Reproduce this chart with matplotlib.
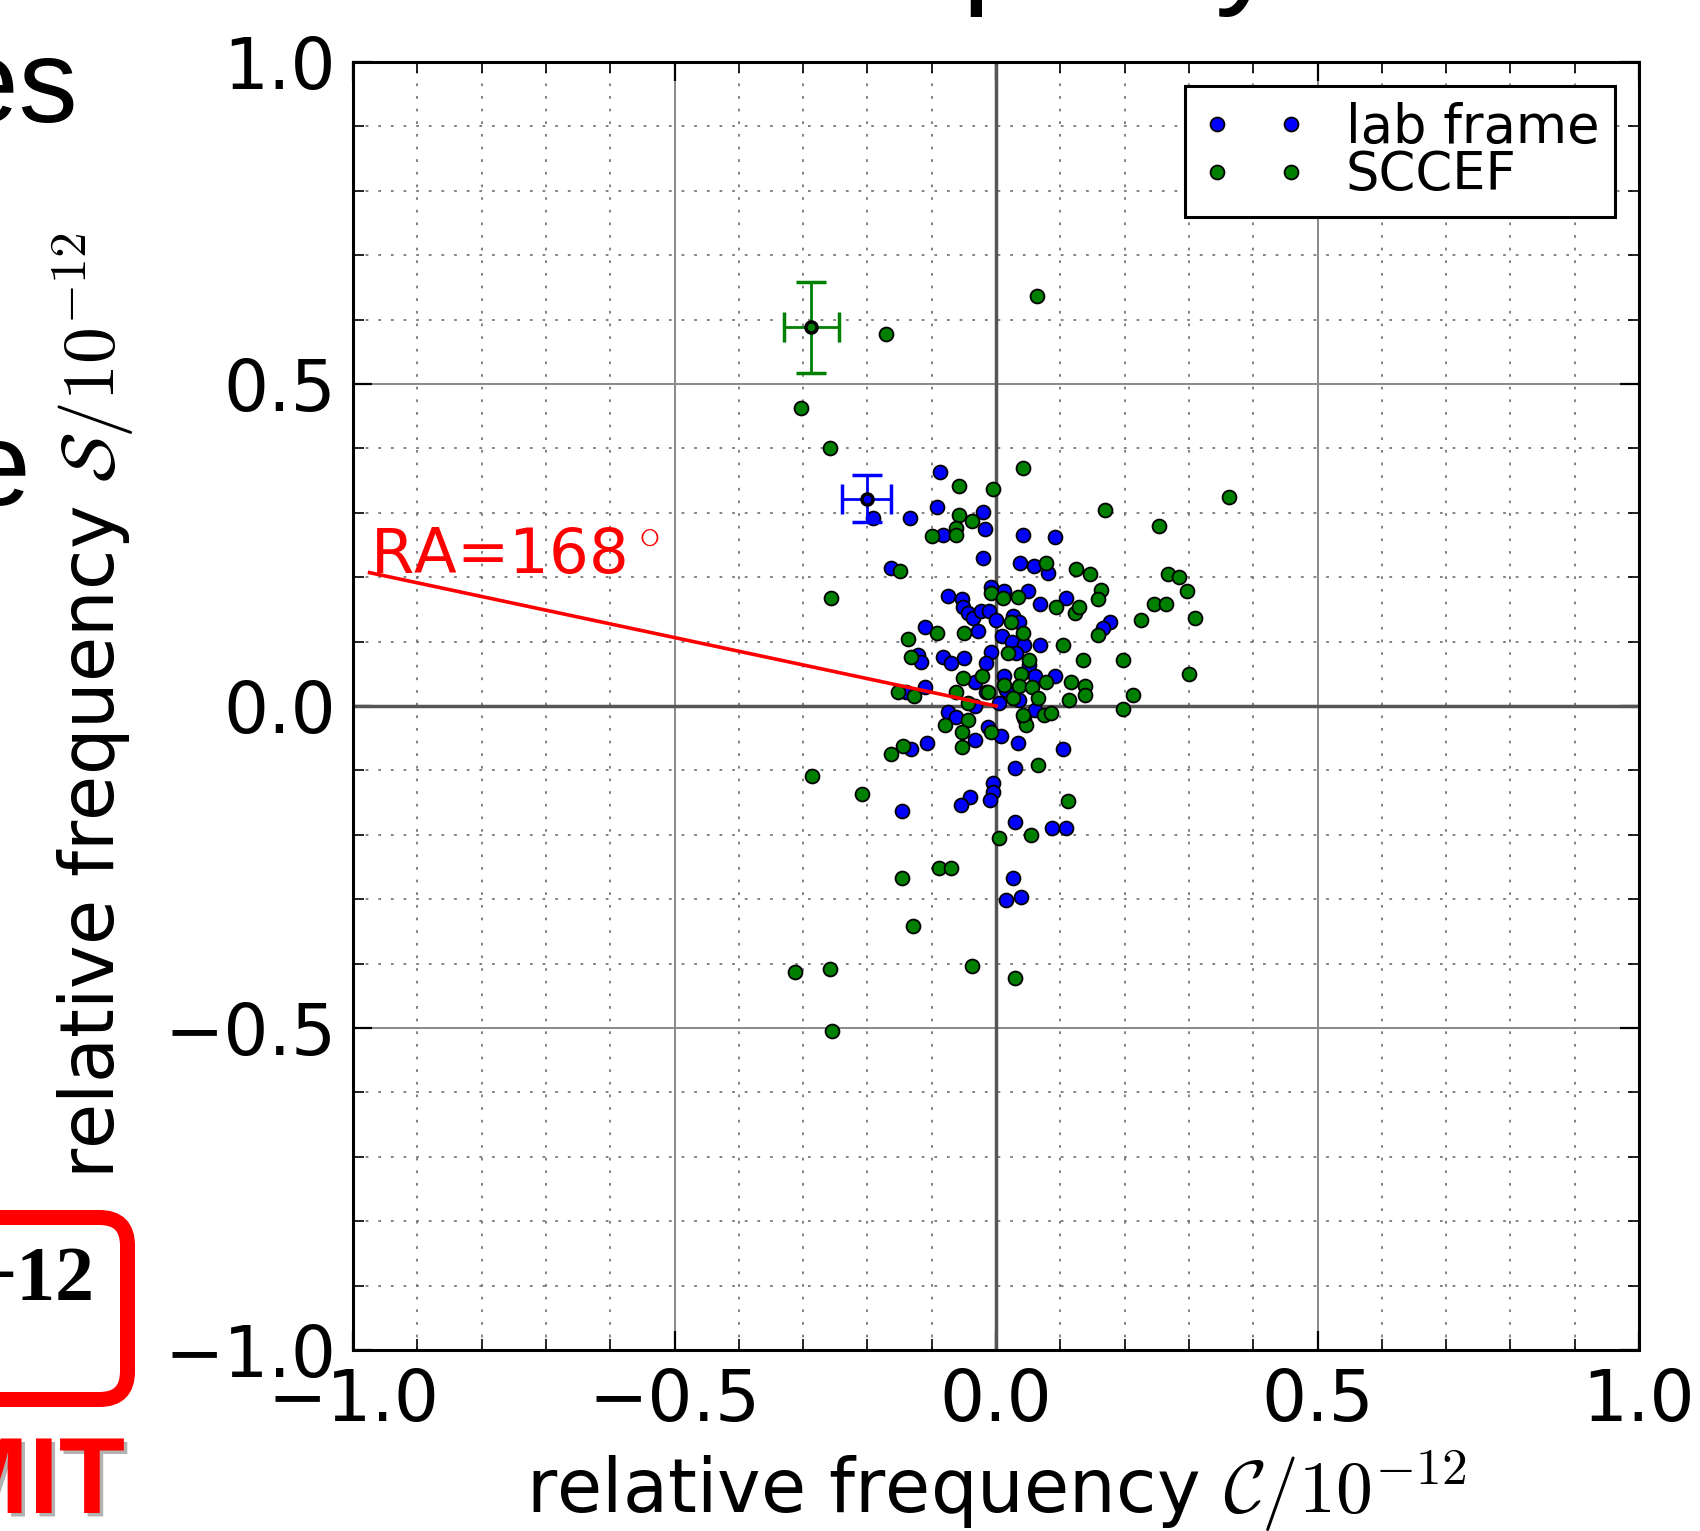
import numpy as np
import matplotlib
matplotlib.use('Agg')
import matplotlib.pyplot as plt
import matplotlib.patheffects as pe
from matplotlib.patches import FancyBboxPatch
from matplotlib.transforms import IdentityTransform
from matplotlib.ticker import MultipleLocator

# lab frame points
lab_x = [-0.087, -0.092, -0.020, -0.017, -0.083, -0.133, -0.191, 0.042, 0.092, -0.020,
         0.038, 0.059, 0.081, -0.163, -0.008, 0.013, 0.050, -0.075, -0.053, 0.068,
         0.109, -0.052, -0.044, -0.035, -0.023, -0.011, 0.000, 0.026, 0.036, 0.177,
         0.166, -0.111, -0.028, 0.010, 0.025, 0.044, 0.068, -0.008, 0.031, -0.121,
         -0.116, -0.083, -0.070, -0.049, -0.016, 0.052, 0.013, 0.060, 0.091, -0.032,
         0.016, -0.111, -0.140, -0.015, 0.036, 0.005, -0.033, -0.075, -0.062, 0.044,
         0.060, -0.013, 0.008, -0.033, 0.034, -0.108, -0.132, 0.104, 0.030, -0.005,
         -0.005, -0.041, -0.146, -0.054, -0.009, 0.029, 0.087, 0.109, 0.026, 0.016,
         0.039]
lab_y = [0.363, 0.309, 0.301, 0.275, 0.266, 0.292, 0.292, 0.266, 0.263, 0.230,
         0.222, 0.218, 0.207, 0.214, 0.185, 0.179, 0.179, 0.171, 0.166, 0.159,
         0.167, 0.153, 0.144, 0.136, 0.147, 0.147, 0.134, 0.140, 0.131, 0.131,
         0.121, 0.123, 0.117, 0.108, 0.100, 0.095, 0.095, 0.084, 0.082, 0.079,
         0.069, 0.076, 0.066, 0.075, 0.066, 0.064, 0.047, 0.046, 0.046, 0.038,
         0.025, 0.029, 0.021, 0.021, 0.009, 0.004, 0.000, -0.009, -0.017, -0.019,
         -0.006, -0.032, -0.047, -0.053, -0.057, -0.058, -0.067, -0.067, -0.097, -0.120,
         -0.133, -0.141, -0.163, -0.154, -0.146, -0.180, -0.189, -0.189, -0.267, -0.301,
         -0.296]

# SCCEF points
sccef_x = [0.063, -0.171, -0.304, -0.258, 0.042, -0.058, -0.004, 0.363, 0.170, 0.254,
           -0.058, -0.037, -0.062, -0.100, -0.062, -0.150, 0.077, 0.125, 0.146, 0.267,
           0.284, 0.297, 0.163, 0.158, 0.245, 0.264, 0.310, 0.226, 0.093, 0.123,
           0.129, 0.034, -0.008, 0.011, -0.257, 0.158, -0.137, -0.092, -0.050, 0.023,
           0.042, 0.104, 0.135, 0.197, 0.300, -0.132, 0.018, 0.052, -0.052, -0.021,
           -0.153, -0.128, 0.039, 0.013, 0.036, 0.056, 0.078, 0.117, 0.138, 0.138,
           0.213, 0.114, -0.013, 0.026, 0.066, 0.197, -0.044, -0.062, 0.075, 0.086,
           0.047, 0.042, -0.044, -0.079, -0.053, -0.008, -0.053, -0.145, -0.163, 0.065,
           -0.208, 0.112, -0.286, 0.005, 0.055, -0.088, -0.070, -0.146, -0.129, -0.037,
           -0.312, -0.258, 0.029, -0.255]
sccef_y = [0.637, 0.578, 0.463, 0.401, 0.370, 0.342, 0.337, 0.325, 0.305, 0.280,
           0.297, 0.288, 0.276, 0.264, 0.266, 0.209, 0.222, 0.212, 0.205, 0.205,
           0.200, 0.179, 0.180, 0.166, 0.159, 0.159, 0.137, 0.134, 0.154, 0.145,
           0.154, 0.170, 0.176, 0.167, 0.167, 0.111, 0.104, 0.113, 0.113, 0.130,
           0.113, 0.095, 0.072, 0.072, 0.050, 0.076, 0.083, 0.072, 0.043, 0.047,
           0.021, 0.016, 0.050, 0.033, 0.031, 0.030, 0.038, 0.038, 0.031, 0.017,
           0.017, 0.009, 0.021, 0.012, 0.012, -0.005, 0.004, 0.022, -0.014, -0.011,
           -0.030, -0.014, -0.022, -0.030, -0.041, -0.041, -0.063, -0.062, -0.075, -0.092,
           -0.136, -0.147, -0.108, -0.205, -0.201, -0.251, -0.251, -0.267, -0.342, -0.404,
           -0.413, -0.409, -0.422, -0.504]

# mean values with errors
lab_mean = (-0.201, 0.322)
lab_err = (0.038, 0.037)
sccef_mean = (-0.287, 0.588)
sccef_err = (0.043, 0.071)

ra_deg = 168
ra_len = 0.996
ticks = [-1.0, -0.5, 0.0, 0.5, 1.0]

W, H = 1700, 1531
plt.rcParams['font.family'] = 'DejaVu Sans'
plt.rcParams['mathtext.fontset'] = 'cm'

fig = plt.figure(figsize=(W / 100, H / 100), dpi=100)
ax = fig.add_axes([353 / W, 1 - 1350 / H, 1286 / W, 1288 / H])
ax.set_xlim(-1, 1)
ax.set_ylim(-1, 1)
ax.set_xticks(ticks)
ax.set_yticks(ticks)
ax.xaxis.set_minor_locator(MultipleLocator(0.1))
ax.yaxis.set_minor_locator(MultipleLocator(0.1))

ax.grid(which='minor', color='#777777', ls=(0, (1.5, 5.5)), lw=1.3)
ax.grid(which='major', color='#888888', ls='-', lw=1.4)
ax.axhline(0, color='#555555', lw=2.5, zorder=1.5)
ax.axvline(0, color='#555555', lw=2.5, zorder=1.5)
ax.set_axisbelow(True)

ax.tick_params(which='both', direction='in', top=True, right=True)
ax.tick_params(which='major', length=14, width=1.6, labelsize=51, pad=12)
ax.tick_params(which='minor', length=8, width=1.2)
for s in ax.spines.values():
    s.set_linewidth(2.2)

ax.plot(lab_x, lab_y, 'o', ls='none', color='b', mec='k', ms=10, mew=1.3,
        label='lab frame', zorder=3)
ax.plot(sccef_x, sccef_y, 'o', ls='none', color='g', mec='k', ms=10, mew=1.3,
        label='SCCEF', zorder=3)

ax.errorbar(lab_mean[0], lab_mean[1], xerr=lab_err[0], yerr=lab_err[1], fmt='o',
            color='b', mec='k', ms=8, mew=2.5, elinewidth=2, capsize=11, capthick=2,
            zorder=4)
ax.errorbar(sccef_mean[0], sccef_mean[1], xerr=sccef_err[0], yerr=sccef_err[1], fmt='o',
            color='g', mec='k', ms=8, mew=2.5, elinewidth=2, capsize=11, capthick=2,
            zorder=4)

ex = ra_len * np.cos(np.radians(ra_deg))
ey = ra_len * np.sin(np.radians(ra_deg))
ax.plot([0, ex], [0, ey], color='r', lw=2.6, zorder=5)
ax.text(ex, ey, 'RA=168$^\\circ$', color='r', fontsize=45, zorder=5)

ax.set_xlabel(r'relative frequency $\mathcal{C}/10^{-12}$', fontsize=53, labelpad=9)
ax.set_ylabel(r'relative frequency $\mathcal{S}/10^{-12}$', fontsize=53, labelpad=20)

leg = ax.legend(loc='upper right', numpoints=2, fontsize=38, fancybox=False,
                edgecolor='k', framealpha=1, borderpad=0.3, labelspacing=-0.08,
                handletextpad=0.75, borderaxespad=0.45)
leg.get_frame().set_linewidth(2.2)

# bits of the surrounding slide
def px(x, y):
    return x / W, 1 - y / H

fig.text(*px(78, 122), 'es', ha='right', va='baseline', fontsize=85,
         family='Liberation Sans')
fig.text(*px(31, 505), 'e', ha='right', va='baseline', fontsize=85,
         family='Liberation Sans')
fig.text(*px(962, -10), 'p', ha='left', va='baseline', fontsize=93,
         family='Liberation Sans')
fig.text(*px(1215, -10), 'y', ha='left', va='baseline', fontsize=93,
         family='Liberation Sans')

box = FancyBboxPatch((-100, H - 1399.5), 227.5, 182,
                     boxstyle='round,pad=0,rounding_size=28',
                     fill=False, ec='red', lw=10.8, transform=IdentityTransform())
fig.add_artist(box)
fig.text(*px(95, 1300), '\u221212', ha='right', va='baseline', fontsize=56,
         family='Liberation Serif', weight='bold')
fig.text(*px(125, 1513), 'MIT', ha='right', va='baseline', fontsize=78,
         family='Liberation Sans', weight='bold', color='red',
         path_effects=[pe.SimplePatchShadow(offset=(2.5, -2.5), shadow_rgbFace='gray',
                                            alpha=0.6), pe.Normal()])

fig.savefig('out.png', dpi=100)
